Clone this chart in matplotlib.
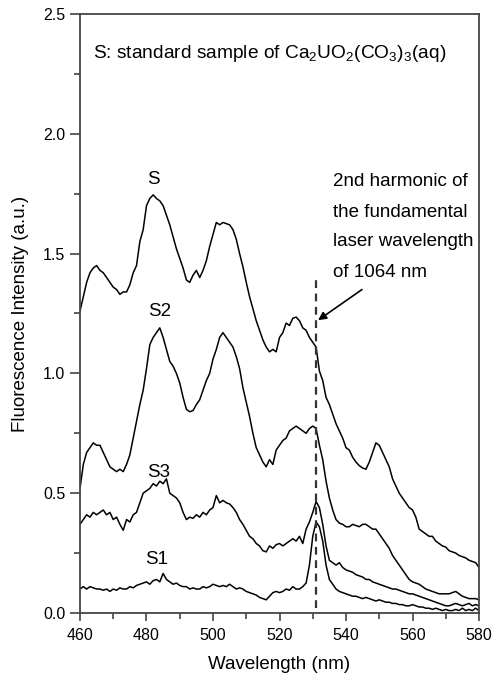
import numpy as np
import matplotlib
matplotlib.use("Agg")
import matplotlib.pyplot as plt

plt.rcParams['font.family'] = ['Liberation Sans', 'DejaVu Sans']
plt.rcParams['mathtext.fontset'] = 'custom'
plt.rcParams['mathtext.rm'] = 'Liberation Sans'
plt.rcParams['mathtext.default'] = 'regular'

# Emission wavelength grid (nm), 1 nm steps
wavelength = np.arange(460, 581)

# Standard sample Ca2UO2(CO3)3(aq)
S = [1.26, 1.32, 1.38, 1.42, 1.44, 1.45, 1.43, 1.42, 1.40, 1.38,
     1.36, 1.35, 1.33, 1.34, 1.34, 1.37, 1.42, 1.45, 1.55, 1.60,
     1.70, 1.73, 1.745, 1.73, 1.72, 1.70, 1.66, 1.62, 1.57, 1.52,
     1.48, 1.44, 1.39, 1.38, 1.41, 1.43, 1.40, 1.43, 1.47, 1.53,
     1.58, 1.63, 1.62, 1.63, 1.625, 1.62, 1.60, 1.56, 1.50, 1.445,
     1.38, 1.32, 1.27, 1.22, 1.18, 1.14, 1.11, 1.09, 1.10, 1.09,
     1.15, 1.17, 1.21, 1.20, 1.23, 1.235, 1.22, 1.19, 1.18, 1.15,
     1.13, 1.11, 1.01, 0.97, 0.90, 0.87, 0.83, 0.79, 0.76, 0.73,
     0.69, 0.68, 0.65, 0.63, 0.615, 0.605, 0.60, 0.63, 0.67, 0.71,
     0.70, 0.67, 0.64, 0.61, 0.56, 0.53, 0.50, 0.48, 0.46, 0.44,
     0.43, 0.40, 0.35, 0.34, 0.33, 0.32, 0.32, 0.30, 0.29, 0.28,
     0.275, 0.26, 0.255, 0.25, 0.24, 0.235, 0.23, 0.22, 0.215, 0.21,
     0.19]

S2 = [0.52, 0.62, 0.67, 0.69, 0.71, 0.70, 0.70, 0.67, 0.64, 0.61,
      0.60, 0.59, 0.60, 0.59, 0.62, 0.66, 0.73, 0.80, 0.87, 0.93,
      1.02, 1.12, 1.15, 1.17, 1.19, 1.15, 1.10, 1.05, 1.03, 1.00,
      0.96, 0.90, 0.85, 0.84, 0.845, 0.87, 0.89, 0.93, 0.97, 1.00,
      1.06, 1.10, 1.15, 1.17, 1.15, 1.13, 1.11, 1.07, 1.02, 0.94,
      0.88, 0.82, 0.75, 0.69, 0.66, 0.63, 0.61, 0.64, 0.62, 0.68,
      0.70, 0.72, 0.73, 0.76, 0.77, 0.78, 0.77, 0.76, 0.75, 0.77,
      0.78, 0.77, 0.70, 0.64, 0.55, 0.48, 0.43, 0.39, 0.375, 0.37,
      0.36, 0.36, 0.37, 0.365, 0.36, 0.37, 0.37, 0.36, 0.35, 0.35,
      0.33, 0.31, 0.29, 0.27, 0.24, 0.22, 0.20, 0.18, 0.16, 0.14,
      0.13, 0.125, 0.12, 0.11, 0.10, 0.095, 0.09, 0.085, 0.08, 0.08,
      0.08, 0.08, 0.085, 0.09, 0.08, 0.07, 0.065, 0.06, 0.06, 0.06,
      0.055]

S3 = [0.37, 0.39, 0.41, 0.40, 0.42, 0.41, 0.42, 0.43, 0.41, 0.42,
      0.39, 0.40, 0.37, 0.345, 0.39, 0.38, 0.41, 0.42, 0.46, 0.50,
      0.51, 0.52, 0.54, 0.53, 0.55, 0.54, 0.56, 0.50, 0.49, 0.48,
      0.46, 0.42, 0.39, 0.40, 0.395, 0.41, 0.40, 0.42, 0.41, 0.43,
      0.44, 0.49, 0.46, 0.47, 0.46, 0.455, 0.44, 0.42, 0.39, 0.37,
      0.345, 0.32, 0.31, 0.29, 0.28, 0.26, 0.255, 0.28, 0.27, 0.285,
      0.29, 0.28, 0.29, 0.30, 0.31, 0.30, 0.32, 0.29, 0.35, 0.38,
      0.42, 0.465, 0.44, 0.37, 0.28, 0.22, 0.21, 0.20, 0.21, 0.19,
      0.18, 0.175, 0.17, 0.16, 0.155, 0.15, 0.14, 0.14, 0.13, 0.125,
      0.12, 0.115, 0.11, 0.105, 0.10, 0.10, 0.095, 0.09, 0.085, 0.08,
      0.08, 0.075, 0.07, 0.065, 0.06, 0.055, 0.05, 0.045, 0.04, 0.035,
      0.03, 0.03, 0.035, 0.04, 0.035, 0.03, 0.035, 0.04, 0.03, 0.035,
      0.03]

S1 = [0.10, 0.11, 0.10, 0.11, 0.105, 0.10, 0.10, 0.095, 0.10, 0.09,
      0.10, 0.095, 0.105, 0.10, 0.10, 0.11, 0.105, 0.115, 0.12, 0.125,
      0.13, 0.12, 0.135, 0.14, 0.13, 0.165, 0.14, 0.13, 0.12, 0.125,
      0.115, 0.11, 0.11, 0.10, 0.105, 0.10, 0.10, 0.11, 0.105, 0.11,
      0.12, 0.115, 0.11, 0.115, 0.11, 0.12, 0.11, 0.10, 0.105, 0.10,
      0.09, 0.085, 0.08, 0.075, 0.065, 0.06, 0.055, 0.07, 0.085, 0.09,
      0.085, 0.09, 0.10, 0.095, 0.11, 0.10, 0.10, 0.11, 0.125, 0.20,
      0.32, 0.38, 0.36, 0.30, 0.20, 0.14, 0.12, 0.10, 0.09, 0.085,
      0.08, 0.075, 0.07, 0.07, 0.065, 0.06, 0.065, 0.06, 0.055, 0.05,
      0.055, 0.05, 0.045, 0.045, 0.04, 0.04, 0.035, 0.035, 0.03, 0.03,
      0.035, 0.03, 0.025, 0.025, 0.02, 0.02, 0.015, 0.02, 0.015, 0.01,
      0.015, 0.01, 0.01, 0.015, 0.01, 0.02, 0.01, 0.015, 0.01, 0.02,
      0.01]

series = {"S": S, "S2": S2, "S3": S3, "S1": S1}
series_labels = {"S": (482.0, 1.81), "S2": (483.9, 1.26),
                 "S3": (483.5, 0.585), "S1": (483.1, 0.222)}

laser_nm = 531.0
laser_span = (0.02, 1.40)

x_ticks = [460, 480, 500, 520, 540, 560, 580]
y_ticks = [0.0, 0.5, 1.0, 1.5, 2.0, 2.5]

fig = plt.figure(figsize=(4.95, 6.76), dpi=100)
ax = fig.add_axes([0.1616, 0.0932, 0.8061, 0.8861])

for name, values in series.items():
    ax.plot(wavelength, values, color='black', lw=1.1)
    lx, ly = series_labels[name]
    ax.text(lx, ly, name, fontsize=13.5, ha='center', va='center')

ax.vlines(laser_nm, *laser_span, colors='#333333', linestyles=(0, (3.5, 2.5)), lw=1.6)

ax.text(463.9, 2.337, r"S: standard sample of Ca$_2$UO$_2$(CO$_3$)$_3$(aq)",
        fontsize=13.8, ha='left', va='center')

note_lines = ["2nd harmonic of", "the fundamental", "laser wavelength", "of 1064 nm"]
note_y = [1.80, 1.672, 1.55, 1.42]
for line, yy in zip(note_lines, note_y):
    ax.text(536.1, yy, line, fontsize=13.5, ha='left', va='center')

ax.annotate("", xy=(531.6, 1.222), xytext=(544.8, 1.35),
            arrowprops=dict(arrowstyle='-|>', color='black', lw=1.2,
                            mutation_scale=12, shrinkA=0, shrinkB=0))

ax.set_xlim(460, 580)
ax.set_ylim(0, 2.5)
ax.set_xticks(x_ticks)
ax.set_yticks(y_ticks)
ax.set_xticks(np.arange(470, 580, 20), minor=True)
ax.set_yticks([0.25, 0.75, 1.25, 1.75, 2.25], minor=True)
ax.set_yticklabels([f"{v:.1f}" for v in y_ticks])
ax.tick_params(axis='both', which='major', direction='out', labelsize=11.5,
               width=1.2, color='#444444')
ax.tick_params(axis='x', which='major', length=6, pad=5)
ax.tick_params(axis='y', which='major', length=7)
ax.tick_params(axis='both', which='minor', direction='out', length=4,
               width=1.2, color='#444444')
for sp in ax.spines.values():
    sp.set_color('#444444')
    sp.set_linewidth(1.3)

ax.set_xlabel("Wavelength (nm)", fontsize=13.5, labelpad=9)
ax.set_ylabel("Fluorescence Intensity (a.u.)", fontsize=13.5, labelpad=10)

fig.savefig("out.png", dpi=100)
